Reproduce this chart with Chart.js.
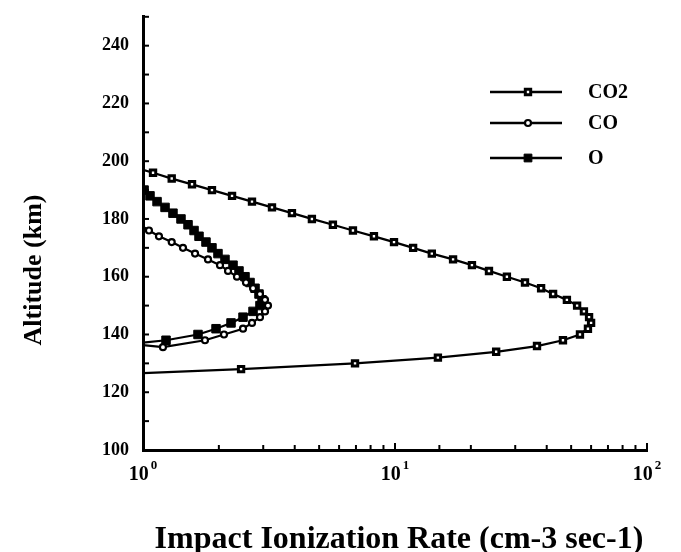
<!DOCTYPE html>
<html>
<head>
<meta charset="utf-8">
<script src="https://cdn.jsdelivr.net/npm/chart.js@4.4.1/dist/chart.umd.min.js"></script>
<style>
  html, body { margin: 0; padding: 0; background: #fff; }
  #wrap { width: 681px; height: 552px; }
</style>
</head>
<body>
<div id="wrap"><canvas id="ionChart" width="681" height="552"></canvas></div>
<script>
// altitude (km) and impact ionization rate (cm-3 sec-1)
const co2Altitude = [197, 196, 194, 192, 190, 188, 186, 184, 182, 180, 178, 176, 174, 172, 170, 168, 166, 164, 162, 160,
  158, 156, 154, 152, 150, 148, 146, 144, 142, 140, 138, 136, 134, 132, 130, 128, 126.6];
const co2Rate = [1.0, 1.096, 1.30, 1.565, 1.878, 2.256, 2.707, 3.25, 3.90, 4.68, 5.67, 6.81, 8.25, 9.91, 11.8, 14.0, 17.0, 20.2, 23.6, 27.8,
  32.8, 38.0, 42.4, 48.1, 52.8, 56.2, 58.9, 60.0, 58.3, 54.2, 46.4, 36.6, 25.2, 14.8, 6.94, 2.45, 1.0];

const coAltitude = [177.3, 176, 174, 172, 170, 168, 166, 164, 162, 160, 158, 156, 154, 152, 150, 148, 146, 144, 142, 140, 138, 135.6, 136.3];
const coRate = [1.0, 1.056, 1.157, 1.30, 1.441, 1.609, 1.811, 2.021, 2.175, 2.36, 2.563, 2.733, 2.912, 3.049, 3.133, 3.049, 2.912, 2.707, 2.494, 2.096, 1.762, 1.20, 1.0];

const oAltitude = [190.4, 190, 188, 186, 184, 182, 180, 178, 176, 174, 172, 170, 168, 166, 164, 162, 160, 158, 156, 154, 152, 150, 148, 146, 144, 142, 140, 138, 137.2];
const oRate = [1.0, 1.01, 1.066, 1.137, 1.223, 1.315, 1.415, 1.509, 1.594, 1.668, 1.778, 1.878, 1.984, 2.115, 2.276, 2.404, 2.540, 2.659, 2.783, 2.886, 2.967, 2.912, 2.733, 2.494, 2.235, 1.949, 1.653, 1.234, 1.0];

const xDecades = [1, 10, 100];
const xDecadeExponents = ['0', '1', '2'];
const yLabelValues = [100, 120, 140, 160, 180, 200, 220, 240];
const xTitle = 'Impact Ionization Rate (cm-3 sec-1)';
const yTitle = 'Altitude (km)';

const serif = 'Liberation Serif';

function toPoints(rates, alts) {
  return rates.map((r, i) => ({ x: r, y: alts[i] }));
}

// no marker where a curve runs into the left axis
function markerSize(r) {
  return ctx => (ctx.raw && ctx.raw.x <= 1.0 ? 0 : r);
}

const axisDecor = {
  id: 'axisDecor',
  afterDraw(chart) {
    const { ctx, chartArea: a, scales: { x, y } } = chart;
    ctx.save();
    ctx.strokeStyle = '#000';
    ctx.lineWidth = 2;
    // inward tick marks
    x.ticks.forEach(t => {
      const px = x.getPixelForValue(t.value);
      const len = xDecades.includes(t.value) ? 7 : 5;
      ctx.beginPath();
      ctx.moveTo(px, a.bottom);
      ctx.lineTo(px, a.bottom - len);
      ctx.stroke();
    });
    y.ticks.forEach(t => {
      const py = y.getPixelForValue(t.value);
      ctx.beginPath();
      ctx.moveTo(a.left, py);
      ctx.lineTo(a.left + 6, py);
      ctx.stroke();
    });
    // decade labels 10^n
    ctx.fillStyle = '#000';
    ctx.textBaseline = 'alphabetic';
    xDecades.forEach((v, i) => {
      const px = x.getPixelForValue(v);
      ctx.font = 'bold 20px "' + serif + '"';
      const w1 = ctx.measureText('10').width;
      ctx.font = 'bold 13px "' + serif + '"';
      const w2 = ctx.measureText(xDecadeExponents[i]).width;
      const left = px - (w1 + w2 + 2) / 2;
      ctx.font = 'bold 20px "' + serif + '"';
      ctx.textAlign = 'left';
      ctx.fillText('10', left, a.bottom + 30);
      ctx.font = 'bold 13px "' + serif + '"';
      ctx.fillText(xDecadeExponents[i], left + w1 + 2, a.bottom + 19);
    });
    // axis titles
    ctx.textAlign = 'center';
    ctx.textBaseline = 'middle';
    ctx.font = 'bold 32px "' + serif + '"';
    ctx.fillText(xTitle, (a.left + a.right) / 2 + 4, 540);
    ctx.save();
    ctx.translate(34, 270);
    ctx.rotate(-Math.PI / 2);
    ctx.font = 'bold 26px "' + serif + '"';
    ctx.fillText(yTitle, 0, 0);
    ctx.restore();
    // legend: line with marker in the middle
    const rows = [92, 123, 158];
    chart.data.datasets.forEach((ds, i) => {
      const yy = rows[i];
      ctx.strokeStyle = '#000';
      ctx.lineWidth = 2.5;
      ctx.beginPath();
      ctx.moveTo(490, yy);
      ctx.lineTo(562, yy);
      ctx.stroke();
      ctx.fillStyle = ds.pointBackgroundColor;
      ctx.lineWidth = ds.pointBorderWidth;
      ctx.beginPath();
      if (ds.pointStyle === 'circle') {
        ctx.arc(528, yy, ds.legendRadius, 0, Math.PI * 2);
      } else {
        const s = ds.legendRadius * Math.SQRT1_2;
        ctx.rect(528 - s, yy - s, 2 * s, 2 * s);
      }
      ctx.fill();
      ctx.stroke();
      ctx.fillStyle = '#000';
      ctx.font = 'bold 20px "' + serif + '"';
      ctx.textAlign = 'left';
      ctx.textBaseline = 'middle';
      ctx.fillText(ds.label, 588, yy + 1);
    });
    ctx.restore();
  }
};

document.addEventListener('DOMContentLoaded', function () {
  const ctx = document.getElementById('ionChart').getContext('2d');
  new Chart(ctx, {
    type: 'scatter',
    data: {
      datasets: [{
        label: 'CO2',
        data: toPoints(co2Rate, co2Altitude),
        showLine: true,
        borderColor: '#000',
        borderWidth: 2.3,
        pointStyle: 'rect',
        pointRadius: markerSize(3.8),
        legendRadius: 3.8,
        pointBorderWidth: 3,
        pointBackgroundColor: '#fff',
        pointBorderColor: '#000'
      }, {
        label: 'CO',
        data: toPoints(coRate, coAltitude),
        showLine: true,
        borderColor: '#000',
        borderWidth: 2.2,
        pointStyle: 'circle',
        pointRadius: markerSize(3),
        legendRadius: 3,
        pointBorderWidth: 2.2,
        pointBackgroundColor: '#fff',
        pointBorderColor: '#000'
      }, {
        label: 'O',
        data: toPoints(oRate, oAltitude),
        showLine: true,
        borderColor: '#000',
        borderWidth: 2.2,
        pointStyle: 'rect',
        pointRadius: markerSize(6),
        legendRadius: 5.5,
        pointBorderWidth: 1,
        pointBackgroundColor: '#000',
        pointBorderColor: '#000'
      }]
    },
    options: {
      responsive: false,
      animation: false,
      layout: { padding: { top: 14, right: 34, left: 0, bottom: 0 } },
      plugins: {
        legend: { display: false },
        tooltip: { enabled: false }
      },
      scales: {
        x: {
          type: 'logarithmic',
          min: 1,
          max: 100,
          grid: { display: false },
          border: { display: true, color: '#000', width: 3 },
          ticks: { callback: () => '', autoSkip: false },
          afterFit: s => { s.height = 102; }
        },
        y: {
          type: 'linear',
          min: 100,
          max: 250,
          grid: { display: false },
          border: { display: true, color: '#000', width: 3 },
          ticks: {
            stepSize: 10,
            autoSkip: false,
            padding: 6,
            color: '#000',
            font: { family: serif, size: 18, weight: 'bold' },
            callback: v => (yLabelValues.includes(v) ? String(v) : '')
          },
          afterFit: s => { s.width = 143; }
        }
      }
    },
    plugins: [axisDecor]
  });
});
</script>
</body>
</html>
